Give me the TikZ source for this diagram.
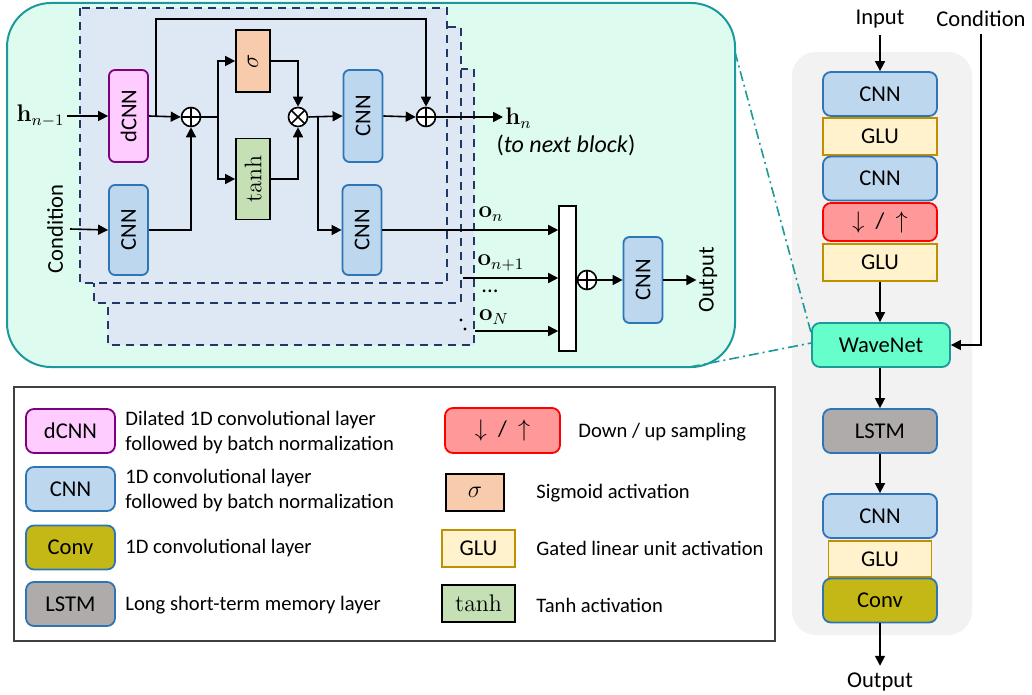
\documentclass[tikz,border=0pt]{standalone}
\usepackage[no-math]{fontspec}
\setmainfont{Carlito}
\usetikzlibrary{arrows.meta,positioning}
\definecolor{cnnfill}{HTML}{BDD7EE}
\definecolor{cnnline}{HTML}{2E75B6}
\definecolor{dcnnfill}{HTML}{FFCCFF}
\definecolor{dcnnline}{HTML}{7F007F}
\definecolor{sigfill}{HTML}{F8CBAD}
\definecolor{tanhfill}{HTML}{C5E0B4}
\definecolor{glufill}{HTML}{FFF2CC}
\definecolor{gluline}{HTML}{BF9000}
\definecolor{samplefill}{HTML}{FF9999}
\definecolor{wavefill}{HTML}{66FFCC}
\definecolor{blockline}{HTML}{1A9A9A}
\definecolor{blockfill}{HTML}{DDFCEF}
\definecolor{dashfill}{HTML}{DEE8F5}
\definecolor{dashline}{HTML}{203864}
\definecolor{lstmfill}{HTML}{AFABAB}
\definecolor{convfill}{HTML}{C4B816}
\definecolor{panelfill}{HTML}{F2F2F2}
\newcommand{\mathlbl}{\fontsize{12}{14}\selectfont}
\newcommand{\updown}{{\large$\downarrow$}\enspace/\enspace{\large$\uparrow$}}
\begin{document}
\begin{tikzpicture}[x=0.5pt, y=-0.5pt,
  font=\fontsize{11.3}{13.5}\selectfont,
  >={Triangle[length=5pt,width=5pt]},
  arr/.style={->, line width=0.8pt},
  wire/.style={line width=0.8pt},
  layer/.style={draw, line width=0.9pt, rounded corners=4pt,
    minimum width=57pt, minimum height=22pt, inner sep=0pt},
  cnn/.style={layer, draw=cnnline, fill=cnnfill},
  dcnn/.style={layer, draw=dcnnline, fill=dcnnfill},
  glu/.style={layer, sharp corners, draw=gluline, fill=glufill, minimum height=18.5pt},
  sampling/.style={layer, draw=red, fill=samplefill, minimum height=19pt},
  lstm/.style={layer, draw=cnnline, fill=lstmfill},
  conv/.style={layer, draw=cnnline, fill=convfill},
  wavenet/.style={layer, draw=blockline, fill=wavefill, minimum width=69pt},
  sig/.style={layer, sharp corners, draw=black, fill=sigfill},
  tanhbox/.style={layer, sharp corners, draw=black, fill=tanhfill},
  vert/.style={minimum width=19.5pt, minimum height=46pt, rounded corners=3pt},
  sumop/.style={circle, draw, fill=white, line width=0.8pt, minimum size=9.5pt, inner sep=0pt,
    path picture={\draw[line width=0.8pt] (path picture bounding box.north) -- (path picture bounding box.south)
      (path picture bounding box.west) -- (path picture bounding box.east);}},
  mulop/.style={circle, draw, fill=white, line width=0.8pt, minimum size=9.5pt, inner sep=0pt,
    path picture={\draw[line width=0.8pt]
      ([shift={(45:5pt)}]path picture bounding box.center) -- ([shift={(225:5pt)}]path picture bounding box.center)
      ([shift={(135:5pt)}]path picture bounding box.center) -- ([shift={(-45:5pt)}]path picture bounding box.center);}},
  dashbox/.style={draw=dashline, fill=dashfill, line width=0.8pt, dash pattern=on 4pt off 3pt},
  zoomline/.style={draw=blockline, line width=0.8pt, dash pattern=on 5pt off 2pt on 1pt off 2pt},
  lgtext/.style={anchor=west, align=left, inner sep=0pt, font=\fontsize{10.3}{12.5}\selectfont}]
\useasboundingbox (0,0) rectangle (1032,695);

% panels
\fill[panelfill, rounded corners=12pt] (792,52) rectangle (972,635);
\draw[blockline, fill=blockfill, line width=1pt, rounded corners=22pt] (7,3) rectangle (735,367);
\draw[dashbox] (108,69) rectangle (474,345);
\draw[dashbox] (94,27) rectangle (461,303);
\draw[dashbox] (80,8) rectangle (447,283);
\fill (461,320) circle (0.8pt) (465,329) circle (0.8pt);

% residual block
\node[anchor=east, inner sep=1pt, font=\mathlbl] (hin) at (67,116) {$\mathbf{h}_{n-1}$};
\node[rotate=90] (condlbl) at (55,229) {Condition};
\node[dcnn, vert] (dcnn) at (128.5,116) {\rotatebox{90}{dCNN}};
\node[cnn, vert, minimum height=45pt] (ccnn) at (128.5,230) {\rotatebox{90}{CNN}};
\node[sumop] (sum1) at (191,117) {};
\node[sig, minimum width=17pt, minimum height=31pt, font=\mathlbl] (sig) at (253,61) {\rotatebox{90}{$\sigma$}};
\node[tanhbox, minimum width=17pt, minimum height=40.5pt, font=\mathlbl] (tanhb) at (253,179) {\rotatebox{90}{$\tanh$}};
\node[mulop] (mul) at (298,117) {};
\node[cnn, vert] (cnn2) at (363,116) {\rotatebox{90}{CNN}};
\node[cnn, vert, minimum height=45pt] (cnn3) at (362,230) {\rotatebox{90}{CNN}};
\node[sumop] (sum3) at (426,117) {};
\node[anchor=west, inner sep=1pt, font=\mathlbl] (hn) at (503,118) {$\mathbf{h}_n$};
\node[font=\fontsize{12}{14}\selectfont] (nextlbl) at (566,145) {(\textit{to next block})};

\draw[arr] (hin.east) -- (dcnn.west);
\draw[arr] (condlbl.south) -- (ccnn.west);
\draw[arr] (dcnn.east) -- (sum1.west);
\coordinate (skip) at (156,117);
\coordinate (skiptop) at (156,19);
\draw[arr] (skip) -- (skiptop) -| (sum3.north);
\draw[arr] (ccnn.east) -| (sum1.south);
\coordinate (br1) at (218,117);
\draw[wire] (sum1.east) -- (br1);
\draw[arr] (br1) |- (sig.west);
\draw[arr] (br1) |- (tanhb.west);
\draw[arr] (sig.east) -| (mul.north);
\draw[arr] (tanhb.east) -| (mul.south);
\draw[arr] (mul.east) -- (cnn2.west);
\coordinate (br2) at (318,117);
\draw[arr] (br2) |- (cnn3.west);
\draw[arr] (cnn2.east) -- (sum3.west);
\draw[arr] (sum3.east) -- (hn.west |- sum3.east);

% skip outputs
\node[draw, fill=white, line width=0.8pt, minimum width=8.5pt, minimum height=72.5pt, inner sep=0pt] (bar) at (567.5,278.5) {};
\node[sumop] (sum4) at (587,280) {};
\node[cnn, vert, minimum height=43pt] (cnn4) at (643,280) {\rotatebox{90}{CNN}};
\node[rotate=90, inner sep=1pt] (outlbl) at (708,280) {Output};
\node[font=\mathlbl] (onlbl) at (491,214) {$\mathbf{o}_n$};
\node[font=\mathlbl] (on1lbl) at (501,263) {$\mathbf{o}_{n+1}$};
\node (dotslbl) at (490,291) {...};
\node[font=\mathlbl] (oNlbl) at (494,317) {$\mathbf{o}_N$};
\coordinate (on1) at (463,278);
\coordinate (oN) at (475,331);
\draw[arr] (cnn3.east) -- (cnn3.east -| bar.west);
\draw[arr] (on1) -- (on1 -| bar.west);
\draw[arr] (oN) -- (oN -| bar.west);
\draw[arr] (sum4.east) -- (cnn4.west);
\draw[arr] (cnn4.east) -- (outlbl.north);

% overall model
\node (inlbl) at (880,19) {Input};
\node (condr) at (981,19) {Condition};
\node[cnn] (rcnn1) at (880,94) {CNN};
\node[glu] (rglu1) at (880,136.5) {GLU};
\node[cnn] (rcnn2) at (880,178.5) {CNN};
\node[sampling] (rsamp) at (880,222) {\updown};
\node[glu] (rglu2) at (880,262.5) {GLU};
\node[wavenet] (wave) at (881,345) {WaveNet};
\node[lstm] (rlstm) at (880,431) {LSTM};
\node[cnn] (rcnn3) at (880,516) {CNN};
\node[glu, minimum width=51.5pt, minimum height=18pt] (rglu3) at (880,559) {GLU};
\node[conv] (rconv) at (880,600.5) {Conv};
\node (outr) at (880,682) {Output};

\draw[arr] (inlbl.south) -- (rcnn1.north);
\draw[arr] (condr.south) |- (wave.east);
\draw[arr] (rglu2.south) -- (wave.north -| rglu2.south);
\draw[arr] (wave.south -| rlstm.north) -- (rlstm.north);
\draw[arr] (rlstm.south) -- (rcnn3.north);
\draw[arr] (rconv.south) -- (outr.north);

\coordinate (zoomA) at (735,52);
\coordinate (zoomB) at (690,367);
\draw[zoomline] (zoomA) -- ([yshift=6pt]wave.west);
\draw[zoomline] (zoomB) -- ([yshift=1pt]wave.west);

% legend
\draw[black!75, line width=0.8pt] (14,387) rectangle (775,641);
\node[dcnn, minimum width=44.5pt] (lgdcnn) at (70.5,431) {dCNN};
\node[lgtext] (lgdcnntxt) at (125,433) {Dilated 1D convolutional layer\\followed by batch normalization};
\node[cnn, minimum width=44.5pt] (lgcnn) at (70.5,489) {CNN};
\node[lgtext] (lgcnntxt) at (125,491) {1D convolutional layer\\followed by batch normalization};
\node[conv, minimum width=44.5pt] (lgconv) at (70.5,547.5) {Conv};
\node[lgtext] (lgconvtxt) at (125,548) {1D convolutional layer};
\node[lstm, minimum width=44.5pt] (lglstm) at (70.5,604) {LSTM};
\node[lgtext] (lglstmtxt) at (125,605) {Long short-term memory layer};
\node[sampling, minimum width=57.5pt, minimum height=22.5pt] (lgsamp) at (502.5,430.5) {\updown};
\node[lgtext] (lgsamptxt) at (578,432) {Down / up sampling};
\node[sig, minimum width=29pt, minimum height=18.5pt, font=\mathlbl] (lgsig) at (475,492.5) {$\sigma$};
\node[lgtext] (lgsigtxt) at (536,493) {Sigmoid activation};
\node[glu, minimum width=36.5pt] (lgglu) at (478.5,548.5) {GLU};
\node[lgtext] (lgglutxt) at (536,548) {Gated linear unit activation};
\node[tanhbox, minimum width=36.5pt, minimum height=18.5pt, font=\mathlbl] (lgtanh) at (478.5,603.5) {$\tanh$};
\node[lgtext] (lgtanhtxt) at (536,605) {Tanh activation};
\end{tikzpicture}
\end{document}
